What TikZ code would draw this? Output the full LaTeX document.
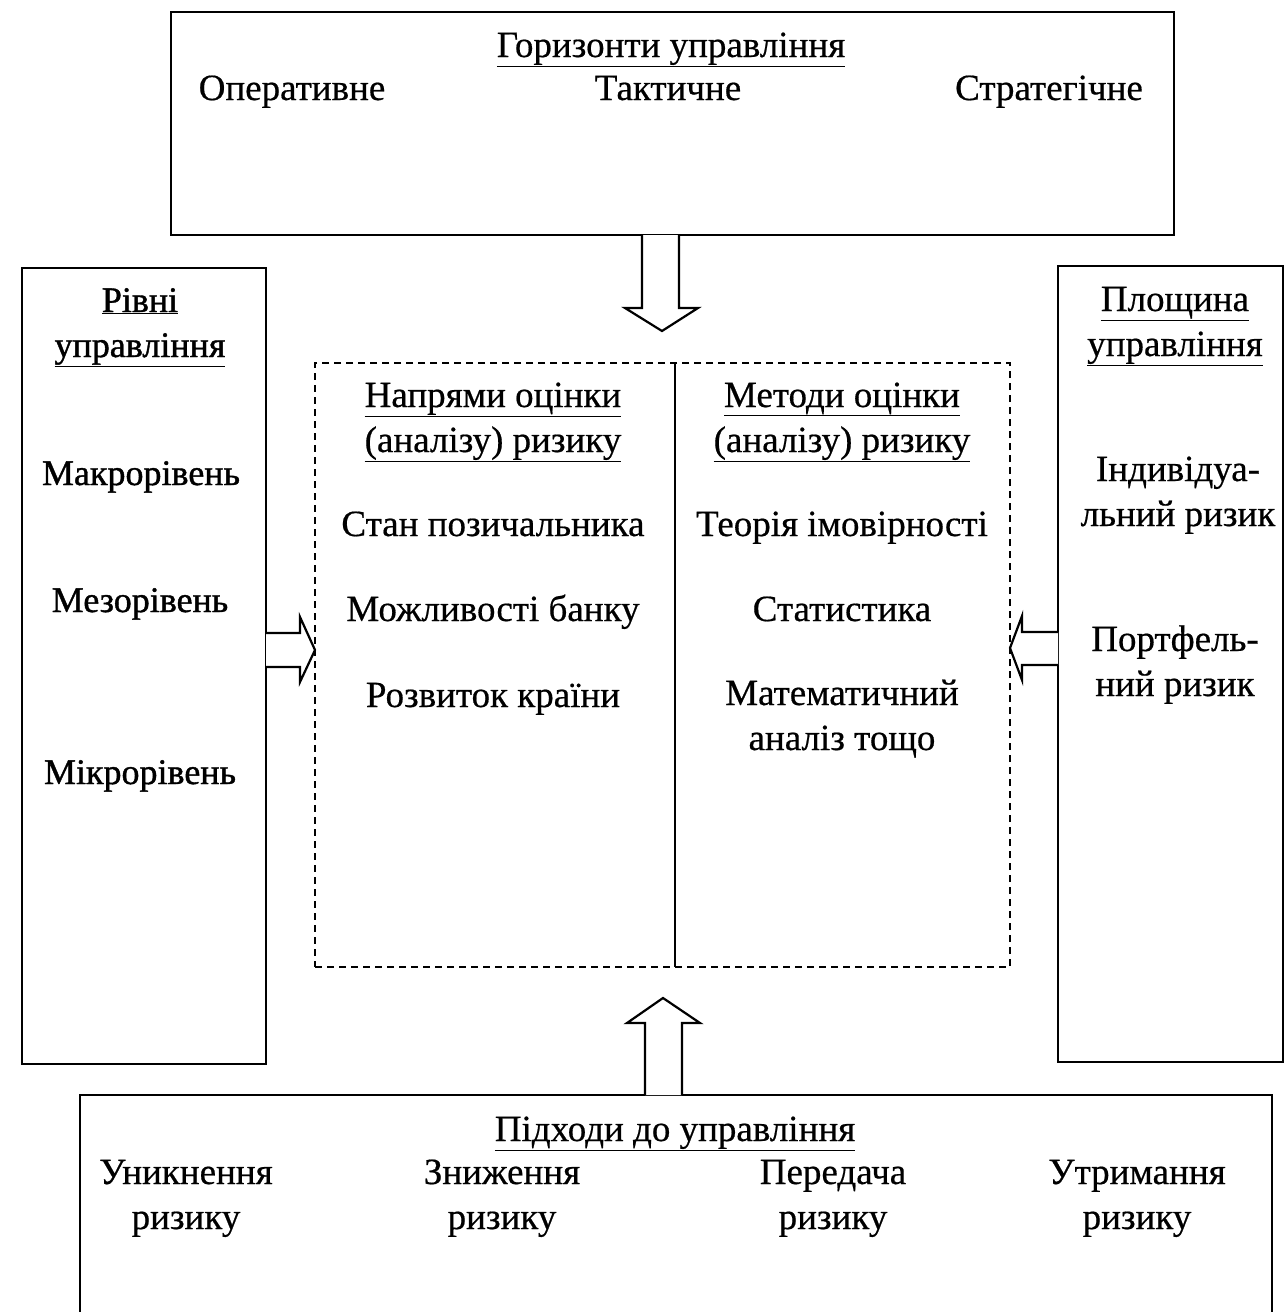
\documentclass[tikz,border=0pt]{standalone}
\usepackage{fontspec}
\setmainfont{Liberation Serif}[FakeBold=0.5]
\newfontfamily\thickfont[FakeBold=1.1]{Liberation Serif}
\begin{document}
\begin{tikzpicture}[x=1pt,y=-1pt,
  frame/.style={draw=black,line width=2.2pt,fill=none,inner sep=0pt},
  txt/.style={font=\fontsize{37}{45}\selectfont,align=center,inner sep=0pt,anchor=base},
  ltxt/.style={font=\thickfont\fontsize{36}{45}\selectfont,align=center,inner sep=0pt,anchor=base},
  blockarrow/.style={draw=black,line width=2.2pt,fill=white,line join=miter}]
\useasboundingbox (0,0) rectangle (1285,1312);
\fill[white] (0,0) rectangle (1285,1312);

% boxes
\node[frame,minimum width=1003pt,minimum height=223pt] (top) at (672.5,123.5) {};
\node[frame,minimum width=244pt,minimum height=796pt] (left) at (144,666) {};
\node[frame,minimum width=225pt,minimum height=796pt] (right) at (1170.5,664) {};
\node[draw=black,line width=1.6pt,dash pattern=on 7pt off 5pt,minimum width=695pt,minimum height=604pt,inner sep=0pt] (mid) at (662.5,665) {};
\coordinate (divtop) at (675,363);
\coordinate (divbot) at (675,967);
\draw[line width=1.8pt] (divtop) -- (divbot);
\coordinate (bl) at (80,1320);
\coordinate (btl) at (80,1095);
\coordinate (btr) at (1272,1095);
\coordinate (br) at (1272,1320);
\draw[line width=2.2pt] (bl) -- (btl) -- (btr) -- (br);

% block arrows
\draw[blockarrow] (642,235) -- (642,308) -- (625,308) -- (662,331) -- (698,308) -- (679,308) -- (679,235);
\draw[blockarrow] (266,633) -- (300,633) -- (300,617) -- (315,650) -- (300,682) -- (300,667) -- (266,667);
\draw[blockarrow] (1058,632) -- (1022,632) -- (1022,616) -- (1010,648) -- (1022,680) -- (1022,665) -- (1058,665);
\draw[blockarrow] (645,1095) -- (645,1023) -- (627,1023) -- (663,998) -- (700,1023) -- (682,1023) -- (682,1095);

% top box text
\node[txt] (th) at (671,57) {\underline{Горизонти управління}};
\node[txt] (t1) at (292,100) {Оперативне};
\node[txt] (t2) at (668,100) {Тактичне};
\node[txt] (t3) at (1049,100) {Стратегічне};

% left box text
\node[ltxt] (lh) at (140,357) {\underline{Рівні}\\\underline{управління}};
\node[ltxt] (l1) at (141,485) {Макрорівень};
\node[ltxt] (l2) at (140,612) {Мезорівень};
\node[ltxt] (l3) at (140,784) {Мікрорівень};

% middle left
\node[txt] (mh1) at (493,452) {\underline{Напрями оцінки}\\\underline{(аналізу) ризику}};
\node[txt] (m1) at (493,536) {Стан позичальника};
\node[txt] (m2) at (493,621) {Можливості банку};
\node[txt] (m3) at (493,707) {Розвиток країни};

% middle right
\node[txt] (mh2) at (842,452) {\underline{Методи оцінки}\\\underline{(аналізу) ризику}};
\node[txt] (n1) at (842,536) {Теорія імовірності};
\node[txt] (n2) at (842,621) {Статистика};
\node[txt] (n3) at (842,750) {Математичний\\аналіз тощо};

% right box
\node[txt] (rh) at (1175,356) {\underline{Площина}\\\underline{управління}};
\node[txt] (r1) at (1178,526) {Індивідуа-\\льний ризик};
\node[txt] (r2) at (1175,696) {Портфель-\\ний ризик};

% bottom box
\node[txt] (bh) at (675,1141) {\underline{Підходи до управління}};
\node[txt] (b1) at (186,1229) {Уникнення\\ризику};
\node[txt] (b2) at (502,1229) {Зниження\\ризику};
\node[txt] (b3) at (833,1229) {Передача\\ризику};
\node[txt] (b4) at (1137,1229) {Утримання\\ризику};
\end{tikzpicture}
\end{document}
